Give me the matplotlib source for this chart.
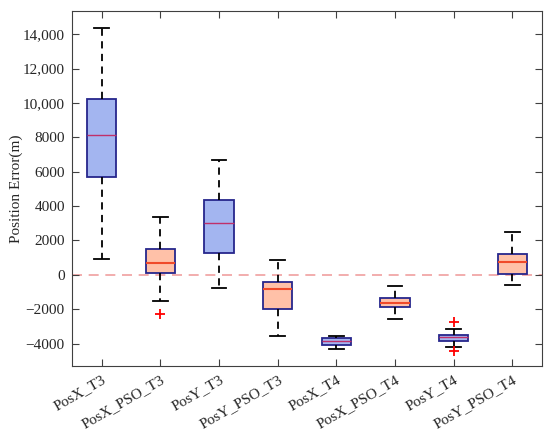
import matplotlib
matplotlib.use("Agg")
import matplotlib.pyplot as plt
from matplotlib.ticker import FuncFormatter

labels = ["PosX_T3", "PosX_PSO_T3", "PosY_T3", "PosY_PSO_T3",
          "PosX_T4", "PosX_PSO_T4", "PosY_T4", "PosY_PSO_T4"]
whislo = [930, -1550, -775, -3565, -4300, -2560, -4170, -565]
q1 = [5700, 100, 1280, -1980, -4070, -1860, -3820, 60]
med = [8120, 715, 3040, -815, -3875, -1610, -3625, 740]
q3 = [10215, 1490, 4340, -425, -3680, -1355, -3490, 1200]
whishi = [14360, 3390, 6700, 855, -3530, -660, -3160, 2520]
fliers = [[], [-2290], [], [], [], [], [-2770, -4440], []]
kinds = ["raw", "pso", "raw", "pso", "raw", "pso", "raw", "pso"]

plt.rcParams['font.family'] = ['Liberation Serif', 'DejaVu Serif']

fig = plt.figure(figsize=(5.5, 4.36), dpi=100)
ax = fig.add_axes([0.1318, 0.1595, 0.8532, 0.8153])

stats = []
for i in range(len(labels)):
    stats.append(dict(label=labels[i], whislo=whislo[i], q1=q1[i], med=med[i],
                      q3=q3[i], whishi=whishi[i], fliers=fliers[i]))

positions = list(range(1, len(labels) + 1))
bp = ax.bxp(stats, positions=positions, widths=0.5, patch_artist=True,
            showfliers=True,
            whiskerprops=dict(color='black', linestyle=(0, (4, 3)), linewidth=1.3),
            capprops=dict(color='black', linewidth=1.3),
            flierprops=dict(marker='+', markeredgecolor='red', markersize=7,
                            markeredgewidth=1.3, linestyle='none'),
            capwidths=0.25)

for i, k in enumerate(kinds):
    box = bp['boxes'][i]
    if k == "raw":
        box.set_facecolor('#a3b5f0')
        bp['medians'][i].set_color('#c0306a')
        bp['medians'][i].set_linewidth(1.0)
    else:
        box.set_facecolor('#ffc1a8')
        bp['medians'][i].set_color('#f04a2a')
        bp['medians'][i].set_linewidth(1.5)
    box.set_edgecolor('#26268c')
    box.set_linewidth(1.3)

ax.axhline(0, color='#f0a0a0', linestyle=(0, (6, 4)), linewidth=1.2, zorder=0)

ax.set_xlim(0.5, 8.5)
ax.set_ylim(-5330, 15350)
ax.set_yticks(range(-4000, 14001, 2000))

def fmt(v, pos):
    v = int(round(v))
    if abs(v) >= 10000:
        s = f"{abs(v):,}"
    else:
        s = f"{abs(v)}"
    return ("\u2212" + s) if v < 0 else s

ax.yaxis.set_major_formatter(FuncFormatter(fmt))
ax.set_xticks(positions)
ax.set_xticklabels(labels, rotation=30, ha='right', rotation_mode='anchor')
ax.tick_params(direction='in', top=True, right=True, labelsize=11, length=5,
               color='#404040', width=0.8, labelcolor='#262626')
ax.tick_params(axis='y', pad=5.5)
ax.tick_params(axis='x', pad=5)
ax.set_ylabel("Position Error(m)", fontsize=11, color='#262626', labelpad=0)
for s in ax.spines.values():
    s.set_color('#404040')
    s.set_linewidth(0.8)

fig.savefig("out.png", dpi=100)
